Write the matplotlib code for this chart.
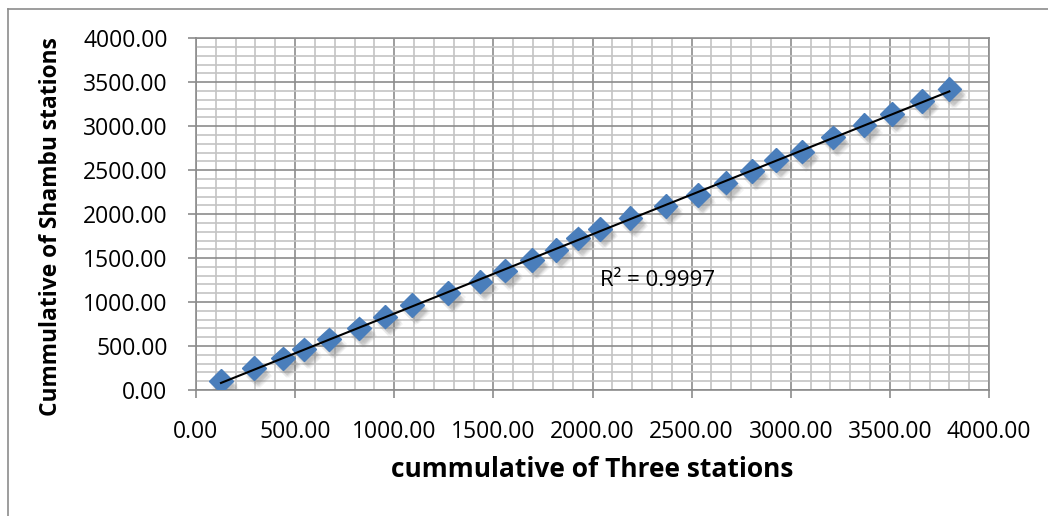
import numpy as np
import matplotlib
matplotlib.use('Agg')
import matplotlib.pyplot as plt
import matplotlib.patheffects as pe
from matplotlib.lines import Line2D
from matplotlib.ticker import MultipleLocator, FormatStrFormatter

# valores
three_stations = [126, 292, 440, 544, 672, 822, 954, 1090, 1272, 1435, 1559, 1695, 1818,
                  1927, 2038, 2191, 2369, 2532, 2671, 2804, 2927, 3058, 3212, 3372,
                  3512, 3663, 3800]
shambu_stations = [102, 247, 360, 463, 576, 701, 834, 967, 1100, 1232, 1357, 1478, 1592,
                   1725, 1833, 1953, 2093, 2218, 2358, 2491, 2616, 2711, 2874, 3011,
                   3139, 3290, 3423]
r2_label = 'R² = 0.9997'
x_label = 'cummulative of Three stations'
y_label = 'Cummulative of Shambu stations'

plt.rcParams['font.family'] = ['Open Sans', 'DejaVu Sans']

fig = plt.figure(figsize=(10.48, 5.16), dpi=100)
ax = fig.add_axes([196 / 1048, 1 - 390 / 516, (989 - 196) / 1048, (390 - 38.3) / 516])

x = np.array(three_stations, dtype=float)
y = np.array(shambu_stations, dtype=float)

# sombra difusa parecida com a do Excel
shadow = [pe.SimplePatchShadow(offset=(dx, -dy), shadow_rgbFace='#7f7f7f', alpha=0.09)
          for dx, dy in [(1.5, 2.5), (2.5, 3.5), (3.5, 4.5), (2.0, 5.0), (3.0, 6.0),
                         (4.0, 3.0), (4.5, 5.5)]]
shadow.append(pe.Normal())

ax.plot(x, y, linestyle='none', marker='D', markersize=12,
        color='#4a7ebb', markeredgecolor='#4a7ebb', zorder=3, path_effects=shadow)

# linha de tendencia
coef = np.polyfit(x, y, 1)
xt = np.array([x.min(), x.max()])
ax.plot(xt, np.polyval(coef, xt), color='black', linewidth=1.5, zorder=4)

ax.text(2040, 1250, r2_label, fontsize=16, va='center', ha='left', zorder=5)

ax.set_xlim(0, 4000)
ax.set_ylim(0, 4000)
ax.xaxis.set_major_locator(MultipleLocator(500))
ax.yaxis.set_major_locator(MultipleLocator(500))
ax.xaxis.set_minor_locator(MultipleLocator(100))
ax.yaxis.set_minor_locator(MultipleLocator(100))
ax.xaxis.set_major_formatter(FormatStrFormatter('%.2f'))
ax.yaxis.set_major_formatter(FormatStrFormatter('%.2f'))

ax.grid(which='major', color='#8c8c8c', linewidth=1.2, zorder=0)
ax.grid(which='minor', color='#c4c4c4', linewidth=1.2, zorder=0)
ax.set_axisbelow(True)

for s in ax.spines.values():
    s.set_color('#8c8c8c')
    s.set_linewidth(1.2)

ax.tick_params(which='major', direction='out', length=6, width=1.2, color='#8c8c8c',
               labelsize=16.5)
ax.tick_params(axis='x', which='major', pad=15.5)
ax.tick_params(axis='y', which='major', pad=14.5)
ax.tick_params(which='minor', length=0)

ax.set_xlabel(x_label, fontsize=19, fontweight='bold')
ax.set_ylabel(y_label, fontsize=16.4, fontweight='bold')
ax.xaxis.set_label_coords(0.5, -0.189)
ax.yaxis.set_label_coords(-0.168, 0.4635)

# borda da area do grafico
fig.add_artist(Line2D([8 / 1048, 8 / 1048], [0, 1 - 9 / 516], color='#8c8c8c', lw=1.2))
fig.add_artist(Line2D([8 / 1048, 1], [1 - 9 / 516, 1 - 9 / 516], color='#8c8c8c', lw=1.2))

plt.savefig('out.png', dpi=100)
